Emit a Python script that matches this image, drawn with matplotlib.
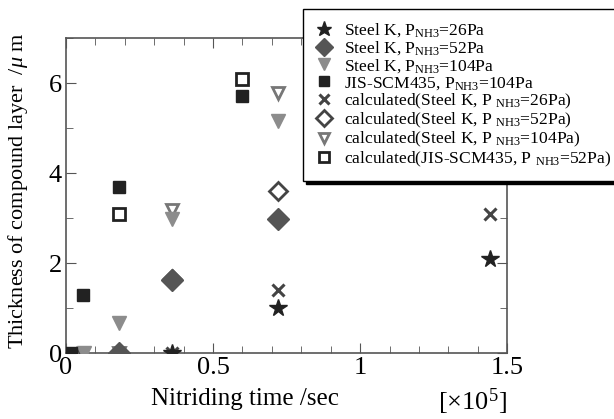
import matplotlib
matplotlib.use('Agg')
import matplotlib.pyplot as plt
from matplotlib.ticker import MultipleLocator

plt.rcParams['font.family'] = ['Liberation Serif', 'DejaVu Serif']
plt.rcParams['mathtext.fontset'] = 'custom'
plt.rcParams['mathtext.rm'] = 'Liberation Serif'
plt.rcParams['mathtext.it'] = 'Liberation Serif:italic'

# nitriding time [x1e5 s] and compound layer thickness [um]
k26_t = [0.36, 0.72, 1.44]
k26_d = [0.0, 0.99, 2.10]
k52_t = [0.18, 0.36, 0.72]
k52_d = [0.0, 1.62, 2.98]
k104_t = [0.06, 0.18, 0.36, 0.72]
k104_d = [0.0, 0.66, 2.97, 5.16]
jis_t = [0.018, 0.057, 0.18, 0.60]
jis_d = [0.0, 1.30, 3.70, 5.71]

calc26_t = [0.05, 0.36, 0.72, 1.44]
calc26_d = [0.0, 0.0, 1.40, 3.08]
calc52_t = [0.18, 0.36, 0.72]
calc52_d = [0.0, 1.65, 3.61]
calc104_t = [0.18, 0.36, 0.72]
calc104_d = [0.0, 3.19, 5.78]
calcjis_t = [0.18, 0.60]
calcjis_d = [3.10, 6.10]

fig = plt.figure(figsize=(6.14, 4.19), dpi=100)
ax = fig.add_axes([0.1075, 0.1575, 0.7185, 0.7515])

ax.plot(k26_t, k26_d, ls='none', marker='*', ms=13, color='#222222',
        label=r'Steel K, P$_{\mathrm{NH3}}$=26Pa', zorder=5)
ax.plot(k52_t, k52_d, ls='none', marker='D', ms=11, color='#555555',
        label=r'Steel K, P$_{\mathrm{NH3}}$=52Pa', zorder=4)
ax.plot(k104_t, k104_d, ls='none', marker='v', ms=10, color='#8c8c8c',
        label=r'Steel K, P$_{\mathrm{NH3}}$=104Pa', zorder=5)
ax.plot(jis_t, jis_d, ls='none', marker='s', ms=9, color='#222222',
        label=r'JIS-SCM435, P$_{\mathrm{NH3}}$=104Pa', zorder=5)
ax.plot(calc26_t, calc26_d, ls='none', marker='x', ms=9, mew=2.2, color='#444444',
        label=r'calculated(Steel K, P $_{\mathrm{NH3}}$=26Pa)', zorder=3)
ax.plot(calc52_t, calc52_d, ls='none', marker='D', ms=9, mew=2, mfc='white', mec='#444444',
        label=r'calculated(Steel K, P $_{\mathrm{NH3}}$=52Pa)', zorder=3)
ax.plot(calc104_t, calc104_d, ls='none', marker='v', ms=9, mew=2, mfc='white', mec='#777777',
        label=r'calculated(Steel K, P $_{\mathrm{NH3}}$=104Pa)', zorder=3)
ax.plot(calcjis_t, calcjis_d, ls='none', marker='s', ms=8, mew=2, mfc='white', mec='#222222',
        label=r'calculated(JIS-SCM435, P $_{\mathrm{NH3}}$=52Pa)', zorder=3)

ax.set_xlim(0, 1.5)
ax.set_ylim(0, 7)
ax.xaxis.set_major_locator(MultipleLocator(0.5))
ax.xaxis.set_minor_locator(MultipleLocator(0.1))
ax.yaxis.set_major_locator(MultipleLocator(2))
ax.yaxis.set_minor_locator(MultipleLocator(1))
ax.xaxis.set_major_formatter(plt.FuncFormatter(lambda v, p: '%g' % v))
ax.tick_params(which='both', direction='in', top=True, right=True, color='#555555',
               labelsize=19, pad=3)
ax.tick_params(which='major', length=7)
ax.tick_params(which='minor', length=5)
for s in ax.spines.values():
    s.set_color('#555555')
    s.set_linewidth(1.2)

ax.set_xlabel('Nitriding time /sec', fontsize=18)
ax.xaxis.set_label_coords(0.406, -0.111)
ax.set_ylabel(r'Thickness of compound layer  /$\mu$ m', fontsize=16)
ax.yaxis.set_label_coords(-0.082, 0.517)
fig.text(0.769, 0.005, r'[$\times$10$^5$]', fontsize=19, ha='center', va='bottom')

fig.legend(loc='upper left', bbox_to_anchor=(0.494, 0.978), fontsize=12.6,
           frameon=True, fancybox=False, edgecolor='black', framealpha=1,
           shadow={'color': 'black', 'alpha': 1}, handlelength=1.0,
           handletextpad=0.6, labelspacing=0.0, borderpad=0.7, numpoints=1,
           borderaxespad=0, markerscale=0.85)

fig.savefig('out.png', dpi=100)
